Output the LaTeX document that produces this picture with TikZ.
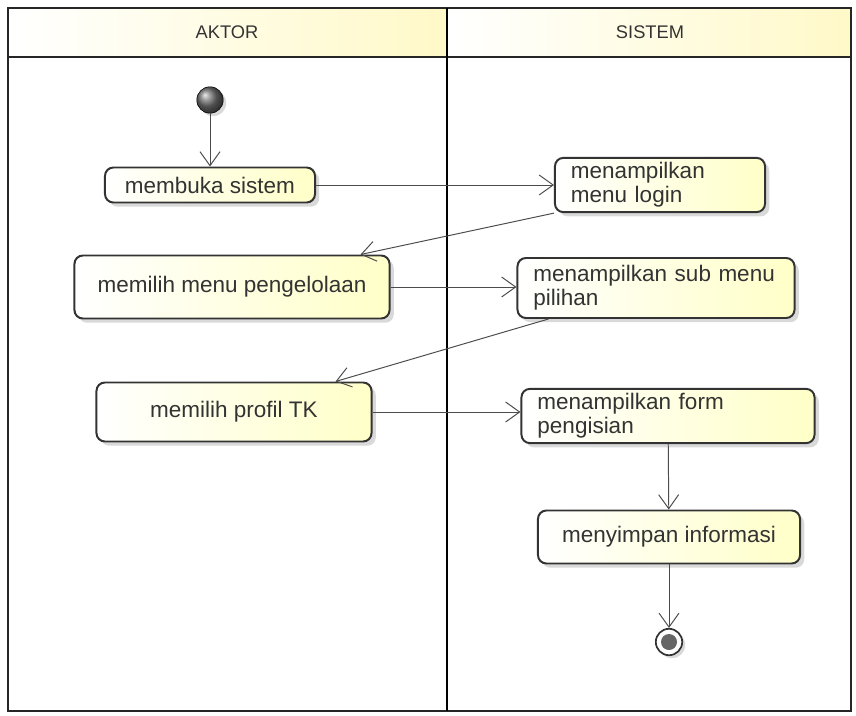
\documentclass[tikz,border=0pt]{standalone}
\usepackage{fontspec}
\setsansfont{Liberation Sans}
\usetikzlibrary{arrows.meta,shadows}

\definecolor{laneyellow}{RGB}{255,249,200}
\definecolor{actyellow}{RGB}{255,255,200}

\begin{document}
\begin{tikzpicture}[x=0.025cm, y=-0.025cm,
    act/.style={draw=black!80, line width=1.4pt, rounded corners=6pt,
        left color=white, right color=actyellow,
        drop shadow={opacity=0.3, shadow xshift=3pt, shadow yshift=-3pt},
        font=\sffamily\fontsize{16}{17}\selectfont, text=black!80},
    twoline/.style={align=left, inner xsep=0.4cm},
    flow/.style={draw=black!70, line width=0.7pt,
        -{Straight Barb[length=3.5mm,width=5mm]}},
    lane/.style={left color=white, right color=laneyellow, draw=black!85,
        line width=1.3pt},
    lanetext/.style={font=\sffamily\fontsize{13}{15}\selectfont, text=black!80},
    initial/.style={circle, inner sep=0pt, minimum size=0.66cm, draw=black,
        ball color=black!55, drop shadow={opacity=0.3}},
    final/.style={circle, inner sep=0pt, minimum size=0.66cm, draw=black!80,
        line width=1.2pt, fill=white, drop shadow={opacity=0.3},
        path picture={\fill[black!60] (path picture bounding box.center)
        circle (0.2cm);}}]

    \useasboundingbox (0,0) rectangle (856,716);

    \draw[lane] (8,8) rectangle (447,57);
    \draw[lane] (447,8) rectangle (851,57);
    \draw[line width=1.3pt, black!85] (8,57) rectangle (851,711);
    \draw[line width=2pt] (447,8) -- (447,711);
    \draw(227,32) node[lanetext] (aktor) {AKTOR};
    \draw(650,32) node[lanetext] (sistem) {SISTEM};

    \draw(210,100) node[initial] (S) {};
    \draw(210,185) node[act, minimum width=5.25cm, minimum height=0.875cm] (A1) {membuka sistem};
    \draw(660,185) node[act, twoline, text width=4.45cm, minimum height=1.25cm] (B1) {menampilkan\\menu login};
    \draw(232,287) node[act, minimum width=7.875cm, minimum height=1.575cm] (A2) {memilih menu pengelolaan};
    \draw(656,288) node[act, twoline, text width=6.125cm, minimum height=1.5cm] (B2) {menampilkan sub menu\\pilihan};
    \draw(234,412) node[act, minimum width=6.875cm, minimum height=1.475cm] (A3) {memilih profil TK};
    \draw(668,416) node[act, twoline, text width=6.525cm, minimum height=1.3cm] (B3) {menampilkan form\\pengisian};
    \draw(669,537) node[act, minimum width=6.55cm, minimum height=1.325cm] (B4) {menyimpan informasi};
    \draw(669,642) node[final] (E) {};

    \draw[flow] (S) -- (A1);
    \draw[flow] (A1) -- (B1);
    \draw[flow] (B1.south west) -- ([xshift=-0.75cm]A2.north east);
    \draw[flow] (A2) -- (A2 -| B2.west);
    \draw[flow] ([xshift=0.8cm]B2.south west) -- ([xshift=-0.925cm]A3.north east);
    \draw[flow] (A3.east) -- (A3.east -| B3.west);
    \draw[flow] (B3) -- (B4);
    \draw[flow] (B4) -- (E);

\end{tikzpicture}
\end{document}
